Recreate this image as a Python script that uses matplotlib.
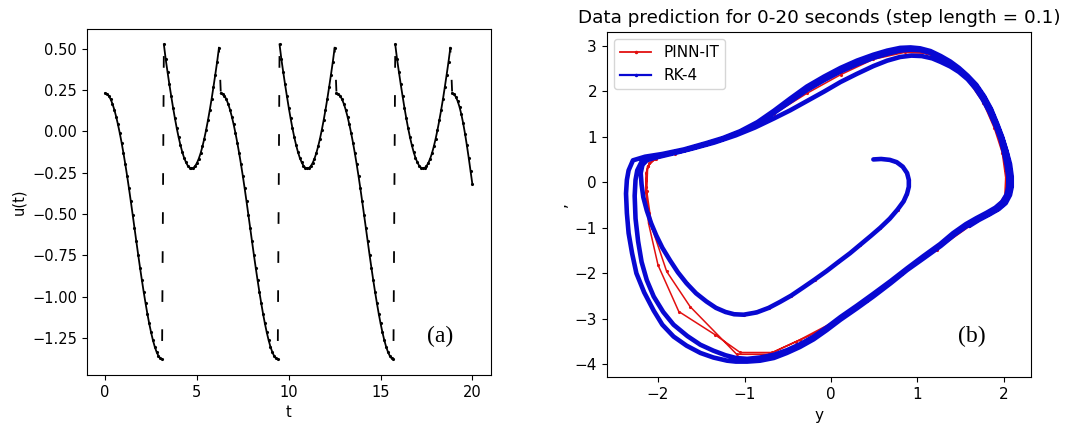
import numpy as np
import matplotlib
matplotlib.use("Agg")
import matplotlib.pyplot as plt
from matplotlib.lines import Line2D

# ---- panel (a): u(t), sampled every 0.1 s ----
step = 0.1
# falling part, one half period
u_fall = [0.230, 0.226, 0.214, 0.194, 0.166, 0.131, 0.089, 0.041, -0.012, -0.070,
          -0.133, -0.200, -0.271, -0.346, -0.424, -0.504, -0.585, -0.666, -0.746, -0.824,
          -0.899, -0.971, -1.039, -1.103, -1.162, -1.215, -1.262, -1.302, -1.334, -1.358,
          -1.373, -1.379]
# U-shaped part, other half period
u_bowl = [0.525, 0.435, 0.358, 0.283, 0.212, 0.143, 0.079, 0.019, -0.035, -0.083,
          -0.125, -0.160, -0.187, -0.208, -0.220, -0.225, -0.222, -0.211, -0.192, -0.166,
          -0.133, -0.092, -0.045, 0.008, 0.066, 0.129, 0.196, 0.268, 0.343, 0.420, 0.505]
# last piece, t = 18.9 .. 20.0
u_last = [0.230, 0.224, 0.208, 0.182, 0.147, 0.102, 0.048, -0.015, -0.085, -0.160,
          -0.240, -0.320]

# ---- panel (b): RK-4 trajectory (y, y'), read piece by piece ----
spiral_y = [0.49, 0.58, 0.68, 0.76, 0.83, 0.88, 0.90, 0.90, 0.88, 0.84,
            0.77, 0.68, 0.57, 0.46, 0.34, 0.22, 0.08, -0.05, -0.19, -0.32,
            -0.46, -0.59, -0.72, -0.86, -1.01, -1.12, -1.22, -1.33, -1.44, -1.56,
            -1.67, -1.77, -1.86, -1.95, -2.02, -2.08, -2.13, -2.17, -2.19, -2.20,
            -2.18, -2.13, -2.05]
spiral_dy = [0.50, 0.51, 0.49, 0.44, 0.34, 0.20, 0.05, -0.10, -0.25, -0.42,
             -0.60, -0.80, -1.00, -1.18, -1.37, -1.56, -1.76, -1.95, -2.14, -2.31,
             -2.49, -2.63, -2.76, -2.86, -2.91, -2.90, -2.85, -2.76, -2.62, -2.44,
             -2.22, -1.98, -1.72, -1.44, -1.17, -0.90, -0.62, -0.33, -0.05, 0.20,
             0.38, 0.48, 0.53]

loop1_y = [-1.85, -1.60, -1.35, -1.10, -0.88, -0.66, -0.47, -0.28, -0.08, 0.11,
           0.30, 0.49, 0.65, 0.80, 0.93, 1.05, 1.17, 1.27, 1.38, 1.48,
           1.58, 1.67, 1.75, 1.83, 1.90, 1.96, 2.00, 2.03, 2.05, 2.05,
           2.03, 1.98, 1.90, 1.80, 1.68, 1.56, 1.41, 1.26, 1.07, 0.88,
           0.69, 0.49, 0.30, 0.11, -0.05, -0.20, -0.36, -0.51, -0.66, -0.82,
           -0.97, -1.10, -1.22, -1.36, -1.51, -1.66, -1.82, -1.94, -2.05, -2.13,
           -2.19, -2.23, -2.26, -2.27, -2.26, -2.24, -2.19, -2.10]
loop1_dy = [0.62, 0.74, 0.87, 1.03, 1.20, 1.40, 1.58, 1.78, 1.99, 2.20,
            2.38, 2.55, 2.67, 2.75, 2.78, 2.77, 2.72, 2.64, 2.54, 2.42,
            2.26, 2.06, 1.83, 1.55, 1.25, 0.95, 0.65, 0.38, 0.12, -0.10,
            -0.27, -0.43, -0.56, -0.67, -0.79, -0.92, -1.12, -1.36, -1.62, -1.89,
            -2.17, -2.45, -2.71, -2.96, -3.19, -3.39, -3.56, -3.69, -3.79, -3.85,
            -3.88, -3.86, -3.80, -3.70, -3.57, -3.38, -3.13, -2.85, -2.51, -2.15,
            -1.75, -1.30, -0.80, -0.30, 0.05, 0.26, 0.45, 0.53]

loop2_y = [-1.95, -1.70, -1.44, -1.25, -1.05, -0.85, -0.66, -0.47, -0.28, -0.08,
           0.11, 0.30, 0.49, 0.65, 0.80, 0.92, 1.03, 1.15, 1.27, 1.38,
           1.48, 1.58, 1.68, 1.77, 1.85, 1.92, 1.98, 2.03, 2.06, 2.08,
           2.08, 2.06, 2.01, 1.93, 1.82, 1.70, 1.58, 1.43, 1.27, 1.08,
           0.88, 0.69, 0.49, 0.30, 0.11, -0.05, -0.20, -0.36, -0.51, -0.66,
           -0.82, -0.97, -1.10, -1.20, -1.36, -1.51, -1.67, -1.82, -1.95, -2.05,
           -2.16, -2.25, -2.30, -2.34, -2.36, -2.37, -2.36, -2.34, -2.29, -2.15]
loop2_dy = [0.60, 0.70, 0.84, 0.95, 1.10, 1.29, 1.52, 1.77, 2.02, 2.24,
            2.43, 2.59, 2.73, 2.82, 2.89, 2.91, 2.90, 2.84, 2.74, 2.62,
            2.48, 2.31, 2.11, 1.86, 1.58, 1.26, 0.96, 0.66, 0.39, 0.12,
            -0.10, -0.28, -0.45, -0.58, -0.70, -0.82, -0.95, -1.15, -1.40, -1.66,
            -1.93, -2.22, -2.51, -2.77, -3.02, -3.25, -3.45, -3.62, -3.75, -3.86,
            -3.92, -3.94, -3.94, -3.92, -3.85, -3.75, -3.59, -3.39, -3.13, -2.82,
            -2.42, -2.00, -1.56, -1.12, -0.68, -0.25, 0.05, 0.26, 0.48, 0.56]

loop3_y = [-1.95, -1.70, -1.44, -1.25, -1.05, -0.85, -0.66, -0.47, -0.28, -0.08,
           0.11, 0.30, 0.49, 0.65, 0.80, 0.92, 1.03, 1.15, 1.27, 1.38,
           1.48, 1.58, 1.68, 1.77, 1.85, 1.92, 1.98, 2.03, 2.07, 2.09,
           2.09, 2.07, 2.02, 1.94, 1.83, 1.71, 1.60]
loop3_dy = [0.62, 0.72, 0.86, 0.97, 1.12, 1.32, 1.57, 1.84, 2.10, 2.32,
            2.51, 2.67, 2.80, 2.89, 2.95, 2.96, 2.94, 2.88, 2.77, 2.65,
            2.51, 2.34, 2.14, 1.89, 1.61, 1.29, 0.99, 0.68, 0.40, 0.12,
            -0.10, -0.28, -0.46, -0.59, -0.71, -0.83, -0.96]

# ---- panel (b): PINN-IT trajectory ----
pinn_y = [0.49, 0.68, 0.83, 0.90, 0.88, 0.77, 0.57, 0.34, 0.08, -0.19, -0.46, -0.72,
          -1.01, -1.22, -1.44, -1.67, -1.86, -2.02, -2.11, -2.14, -2.14, -2.10, -2.02,
          -1.80, -1.45, -1.05, -0.66, -0.28, 0.11, 0.49, 0.85, 1.10, 1.35, 1.58, 1.76, 1.89,
          1.98, 2.02, 2.01, 1.90, 1.58, 1.20, 0.80, 0.40, 0.02, -0.36, -0.68, -1.05, -1.34,
          -1.76, -2.00, -2.11, -2.14, -2.12, -2.05,
          -1.80, -1.44, -1.05, -0.66, -0.28, 0.11, 0.49, 0.85, 1.10, 1.35, 1.58, 1.77, 1.90,
          1.99, 2.03, 2.03, 1.92, 1.60, 1.22, 0.82, 0.42, 0.04, -0.40, -0.72, -1.09, -1.63,
          -1.90, -2.07, -2.13, -2.12, -2.03,
          -1.80, -1.44, -1.05, -0.66, -0.28, 0.11, 0.49, 0.85, 1.10, 1.35, 1.58, 1.77, 1.90,
          1.99, 2.03, 2.03, 1.92, 1.60]
pinn_dy = [0.50, 0.49, 0.34, 0.05, -0.25, -0.60, -1.00, -1.37, -1.76, -2.14, -2.49, -2.76,
           -2.91, -2.85, -2.62, -2.22, -1.72, -1.17, -0.68, -0.20, 0.20, 0.42, 0.52,
           0.63, 0.82, 1.10, 1.50, 1.95, 2.36, 2.70, 2.85, 2.83, 2.62, 2.25, 1.75, 1.18, 0.65,
           0.10, -0.30, -0.58, -0.96, -1.48, -2.00, -2.58, -3.08, -3.46, -3.74, -3.74, -3.35,
           -2.84, -1.82, -0.90, -0.10, 0.35, 0.50,
           0.64, 0.84, 1.11, 1.55, 2.05, 2.43, 2.74, 2.88, 2.86, 2.64, 2.27, 1.78, 1.20, 0.66,
           0.10, -0.30, -0.60, -0.97, -1.48, -2.02, -2.60, -3.12, -3.50, -3.78, -3.78, -2.73,
           -1.96, -1.00, -0.20, 0.35, 0.52,
           0.64, 0.84, 1.11, 1.55, 2.05, 2.43, 2.74, 2.88, 2.86, 2.64, 2.27, 1.78, 1.20, 0.66,
           0.10, -0.30, -0.60, -0.97]

u = np.array(u_fall + u_bowl + u_fall + u_bowl + u_fall + u_bowl + u_last)
t = np.round(np.arange(len(u)) * step, 1)

rk4_y = spiral_y + loop1_y + loop2_y + loop3_y
rk4_dy = spiral_dy + loop1_dy + loop2_dy + loop3_dy

plt.rcParams['lines.scale_dashes'] = False
fig = plt.figure(figsize=(10.75, 4.25), dpi=100)

# ---------------- (a) ----------------
ax1 = fig.add_axes([0.0807, 0.1176, 0.3758, 0.8148])
jumps = np.where(np.abs(np.diff(u)) > 0.2)[0]
starts = np.concatenate(([0], jumps + 1))
ends = np.concatenate((jumps + 1, [len(u)]))
for a, b in zip(starts, ends):
    ax1.plot(t[a:b], u[a:b], color='k', marker='.', ms=2.5, lw=1.3)
for j in jumps:
    # dashed connector across the wrap
    if u[j + 1] > u[j]:
        ls = (14.9, (8.4, 19.7))
    else:
        ls = (5.0, (8.4, 19.7))
    ax1.plot(t[j:j + 2], u[j:j + 2], color='k', lw=1.3, ls=ls)
ax1.set_xlabel('t', fontsize=10.5)
ax1.set_ylabel('u(t)', fontsize=10.5)
ax1.tick_params(labelsize=10.5)
ax1.set_xticks([0, 5, 10, 15, 20])
ax1.set_yticks([0.5, 0.25, 0.0, -0.25, -0.5, -0.75, -1.0, -1.25])
ax1.text(0.875, 0.11, '(a)', transform=ax1.transAxes, fontsize=17,
         family='Liberation Serif', ha='center', va='center')

# ---------------- (b) ----------------
ax2 = fig.add_axes([0.5644, 0.1122, 0.3947, 0.8132])
ax2.plot(pinn_y, pinn_dy, color='#e21010', lw=1.1, marker='.', ms=2.5)
ax2.plot(rk4_y, rk4_dy, color='#0808d2', lw=3.3, solid_joinstyle='round',
         solid_capstyle='round')
ax2.set_title('Data prediction for 0-20 seconds (step length = 0.1)', fontsize=13.2)
ax2.set_xlabel('y', fontsize=11)
ax2.set_ylabel(',', fontsize=11)
ax2.tick_params(labelsize=11)
ax2.set_yticks([3, 2, 1, 0, -1, -2, -3, -4])
handles = [Line2D([], [], color='#e21010', lw=1.3, marker='.', ms=3),
           Line2D([], [], color='#0808d2', lw=1.6, marker='.', ms=3)]
ax2.legend(handles, ['PINN-IT', 'RK-4'], loc='upper left', fontsize=11)
ax2.text(0.86, 0.117, '(b)', transform=ax2.transAxes, fontsize=17,
         family='Liberation Serif', ha='center', va='center')

fig.savefig('out.png', dpi=100)
